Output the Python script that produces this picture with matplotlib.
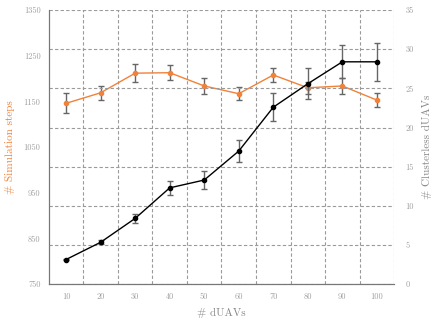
import matplotlib
matplotlib.use('Agg')
import matplotlib.pyplot as plt

plt.rcParams['font.family'] = ['cmr10', 'DejaVu Serif']
plt.rcParams['axes.unicode_minus'] = False

# Data
n_duavs = [10, 20, 30, 40, 50, 60, 70, 80, 90, 100]
sim_steps = [1146, 1169, 1212, 1213, 1184, 1167, 1208, 1180, 1184, 1153]
sim_steps_err = [22, 15, 19, 16, 17, 14, 16, 13, 17, 15]
clusterless = [3.15, 5.35, 8.4, 12.3, 13.3, 17.0, 22.6, 25.6, 28.4, 28.4]
clusterless_err = [0.1, 0.25, 0.6, 0.9, 1.1, 1.4, 1.8, 2.0, 2.1, 2.4]

orange = '#f0823a'
grey_txt = '#a0a0a0'

fig = plt.figure(figsize=(4.36, 3.27), dpi=100)
ax = fig.add_axes([0.112, 0.131, 0.792, 0.838])
ax2 = ax.twinx()

ax.errorbar(n_duavs, sim_steps, yerr=sim_steps_err, color=orange, marker='o',
            markersize=3, linewidth=1, ecolor='#666666', elinewidth=1, capsize=2.5,
            zorder=3)
ax2.errorbar(n_duavs, clusterless, yerr=clusterless_err, color='black', marker='o',
             markersize=3, linewidth=1, ecolor='#666666', elinewidth=1, capsize=2.5,
             zorder=3)

ax.set_xlim(5, 105)
ax.set_ylim(750, 1350)
ax2.set_ylim(0, 35)
ax.set_xticks(n_duavs)
ax.set_xticks([15, 25, 35, 45, 55, 65, 75, 85, 95, 105], minor=True)
ax.set_yticks(range(750, 1351, 100))
ax2.set_yticks(range(0, 36, 5))

ax.grid(False)
ax.xaxis.grid(True, which='minor', linestyle=(0, (3, 2)), color='#9a9a9a', linewidth=0.8)
ax2.yaxis.grid(True, linestyle=(0, (3, 2)), color='#9a9a9a', linewidth=0.8)
ax.tick_params(which='both', length=0, labelsize=6, colors=grey_txt, pad=6)
ax2.tick_params(length=0, labelsize=6, colors=grey_txt, pad=8)

for a in (ax, ax2):
    a.spines['top'].set_visible(False)
    a.spines['right'].set_visible(False)
    a.spines['left'].set_color('#777777')
    a.spines['bottom'].set_color('#777777')

ax.set_xlabel('# dUAVs', color='#888888', fontsize=8, labelpad=5)
ax.set_ylabel('# Simulation steps', color=orange, fontsize=8, labelpad=6)
ax2.set_ylabel('# Clusterless dUAVs', color='#888888', fontsize=8, labelpad=6)

fig.savefig('out.png', dpi=100)
